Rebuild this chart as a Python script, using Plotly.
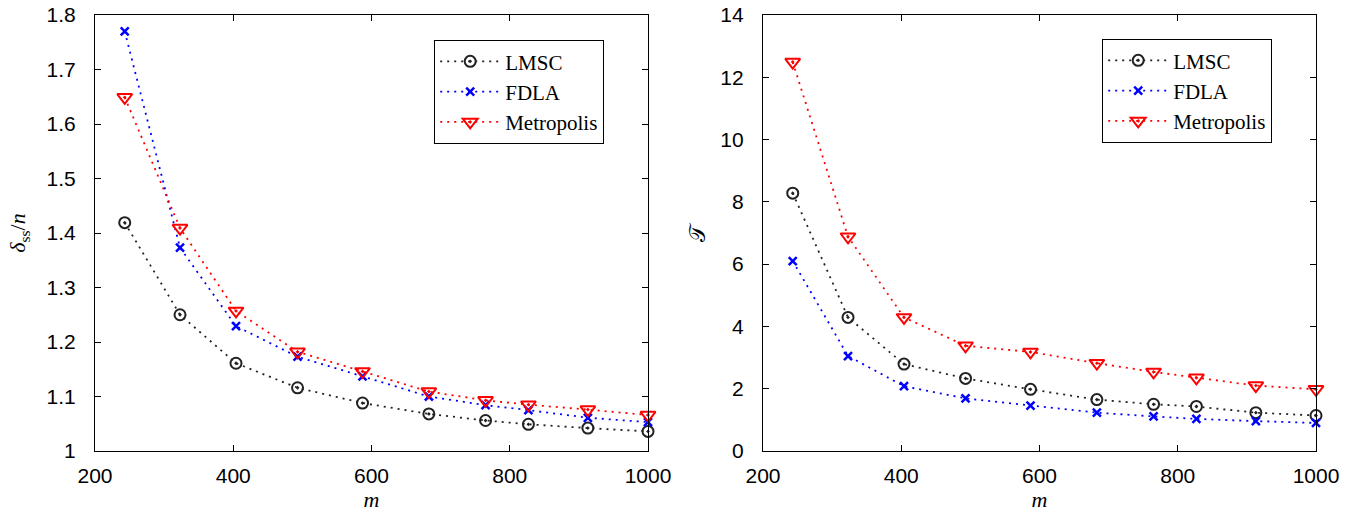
import plotly.graph_objects as go

m = [243, 323, 404, 493, 587, 683, 765, 827, 913, 1000]

delta_lmsc = [1.419, 1.250, 1.161, 1.116, 1.088, 1.068, 1.056, 1.049, 1.042, 1.036]
delta_fdla = [1.770, 1.373, 1.229, 1.173, 1.137, 1.100, 1.084, 1.075, 1.061, 1.053]
delta_metro = [1.649, 1.409, 1.257, 1.182, 1.146, 1.109, 1.093, 1.085, 1.076, 1.066]

T_lmsc = [8.28, 4.29, 2.79, 2.33, 1.98, 1.65, 1.50, 1.43, 1.23, 1.14]
T_fdla = [6.10, 3.05, 2.08, 1.69, 1.46, 1.23, 1.11, 1.03, 0.96, 0.90]
T_metro = [12.49, 6.88, 4.29, 3.38, 3.18, 2.82, 2.54, 2.35, 2.10, 1.98]

names = ["LMSC", "FDLA", "Metropolis"]
colors = ["#222222", "#0000ff", "#ff0000"]
symbols = ["circle-open-dot", "x-thin-open", "triangle-down-open-dot"]
sizes = [11, 8, 13]
mlw = [2, 2.5, 2]

fig = go.Figure()

left = [delta_lmsc, delta_fdla, delta_metro]
right = [T_lmsc, T_fdla, T_metro]

line_style = lambda c: dict(color=c, dash="2px,5px", width=1.8)

for i in range(3):
    fig.add_trace(go.Scatter(
        x=m, y=left[i], name=names[i], mode="lines+markers",
        line=line_style(colors[i]),
        marker=dict(symbol=symbols[i], size=sizes[i], color=colors[i],
                    line=dict(color=colors[i], width=mlw[i])),
        xaxis="x", yaxis="y", legend="legend", cliponaxis=False))
for i in range(3):
    fig.add_trace(go.Scatter(
        x=m, y=right[i], name=names[i], mode="lines+markers",
        line=line_style(colors[i]),
        marker=dict(symbol=symbols[i], size=sizes[i], color=colors[i],
                    line=dict(color=colors[i], width=mlw[i])),
        xaxis="x2", yaxis="y2", legend="legend2", cliponaxis=False))

W, H = 1353, 515
tickfont = dict(family="Liberation Sans, Arial, sans-serif", size=21, color="black")
titlefont = dict(family="Liberation Serif, Times New Roman, serif", size=22, color="black")
legfont = dict(family="Liberation Serif, Times New Roman, serif", size=21, color="black")

axis_common = dict(
    showline=True, linecolor="black", linewidth=1.2, mirror="allticks",
    ticks="inside", ticklen=6, tickwidth=1.2, tickcolor="black",
    showgrid=False, zeroline=False, tickfont=tickfont, automargin=False,
    ticklabeloverflow="allow",
)

top_px, bot_px = 15, 451
plot_h = bot_px - top_px

fig.update_layout(
    width=W, height=H,
    margin=dict(l=0, r=0, t=top_px, b=H - bot_px),
    paper_bgcolor="white", plot_bgcolor="white",
    xaxis=dict(domain=[95 / W, 648 / W], range=[200, 1000], dtick=200, tick0=200,
               anchor="y", ticklabelstandoff=6,
               title=dict(text="<i>m</i>", font=titlefont, standoff=4), **axis_common),
    yaxis=dict(domain=[0, 1], range=[1, 1.8], dtick=0.1, tick0=1, anchor="x",
               ticklabelstandoff=14,
               title=dict(text="<i>δ</i><sub>ss</sub>/<i>n</i>", font=titlefont, standoff=14),
               **axis_common),
    xaxis2=dict(domain=[763 / W, 1316 / W], range=[200, 1000], dtick=200, tick0=200,
                anchor="y2", ticklabelstandoff=6,
                title=dict(text="<i>m</i>", font=titlefont, standoff=4), **axis_common),
    yaxis2=dict(domain=[0, 1], range=[0, 14], dtick=2, tick0=0, anchor="x2",
                ticklabelstandoff=14,
                title=dict(text="𝒯", font=titlefont, standoff=8), **axis_common),
    legend=dict(x=434 / W, y=(bot_px - 40) / plot_h, xanchor="left", yanchor="top",
                bgcolor="white", bordercolor="black", borderwidth=1.2,
                font=legfont, itemwidth=60, tracegroupgap=0),
    legend2=dict(x=1102 / W, y=(bot_px - 39) / plot_h, xanchor="left", yanchor="top",
                 bgcolor="white", bordercolor="black", borderwidth=1.2,
                 font=legfont, itemwidth=60, tracegroupgap=0),
    showlegend=True,
)

fig.write_html("out.html",
               config={"displayModeBar": False},
               post_script="document.body.style.margin='0px';document.body.style.padding='0px';")
